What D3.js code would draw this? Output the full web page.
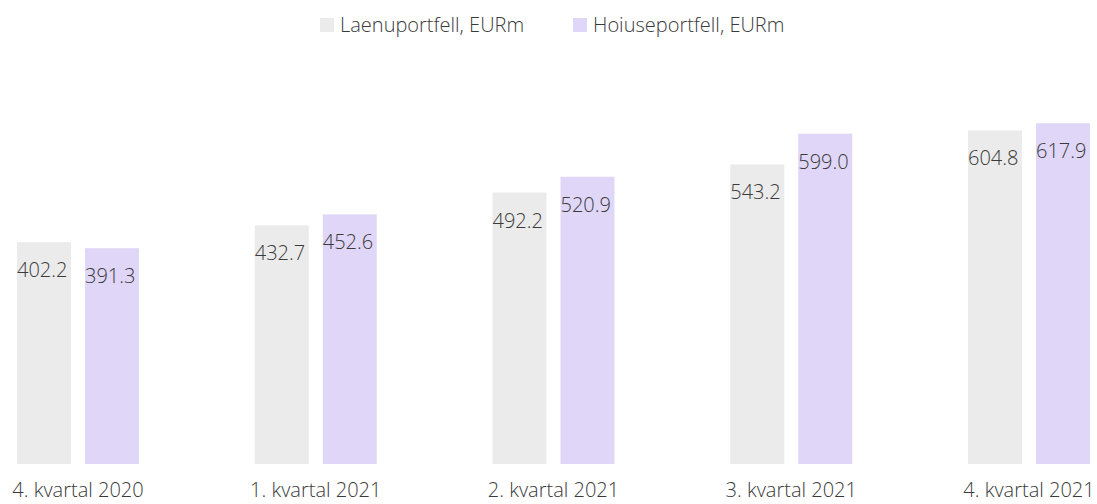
<!DOCTYPE html>
<html>
<head>
<meta charset="utf-8">
<script src="https://cdn.jsdelivr.net/npm/d3@7"></script>
<style>
  body { margin: 0; background: #fff; }
  text { font-family: "Open Sans", sans-serif; font-weight: 300; fill: #3a3a3a; }
</style>
</head>
<body>
<div id="chart"></div>
<script>
// chart data
var quarters = ["4. kvartal 2020", "1. kvartal 2021", "2. kvartal 2021", "3. kvartal 2021", "4. kvartal 2021"];
var seriesNames = ["Laenuportfell, EURm", "Hoiuseportfell, EURm"];
var loans = [402.2, 432.7, 492.2, 543.2, 604.8];
var deposits = [391.3, 452.6, 520.9, 599.0, 617.9];
var colors = ["#ebebeb", "#e0d6f7"];

var width = 1097,
    height = 504;

var seriesValues = [loans, deposits];

var svg = d3.select("#chart")
            .append("svg")
            .attr("width", width)
            .attr("height", height);

// scales
var x0 = d3.scaleBand()
           .domain(quarters)
           .range([17, 1090])
           .paddingInner(0.487)
           .paddingOuter(0);

var x1 = d3.scaleBand()
           .domain(seriesNames)
           .range([0, x0.bandwidth()])
           .paddingInner(0.206)
           .paddingOuter(0);

var y = d3.scaleLinear()
          .domain([0, 700])
          .range([464, 464 - 700 * 0.5515]);

var groups = svg.selectAll("g.group")
                .data(quarters)
                .enter()
                .append("g")
                .attr("class", "group")
                .attr("transform", function(d) { return "translate(" + x0(d) + ",0)"; });

groups.selectAll("rect")
      .data(function(q, i) {
        return seriesNames.map(function(s, j) { return { series: s, value: seriesValues[j][i], idx: j }; });
      })
      .enter()
      .append("rect")
      .attr("x", function(d) { return x1(d.series); })
      .attr("y", function(d) { return y(d.value); })
      .attr("width", x1.bandwidth())
      .attr("height", function(d) { return y(0) - y(d.value); })
      .attr("fill", function(d) { return colors[d.idx]; });

groups.selectAll("text.val")
      .data(function(q, i) {
        return seriesNames.map(function(s, j) { return { series: s, value: seriesValues[j][i] }; });
      })
      .enter()
      .append("text")
      .attr("class", "val")
      .attr("x", function(d) { return x1(d.series); })
      .attr("y", function(d) { return y(d.value) + 35; })
      .style("font-size", "20px")
      .text(function(d) { return d.value.toFixed(1); });

// x axis labels
var xAxis = d3.axisBottom(x0).tickSize(0).tickPadding(0);
var axisG = svg.append("g")
               .attr("transform", "translate(0,483)")
               .call(xAxis);
axisG.select(".domain").remove();
axisG.selectAll("text")
     .attr("dy", "0.71em")
     .style("font-size", "20px")
     .style("font-family", "'Open Sans', sans-serif")
     .style("fill", "#3a3a3a");

// legend
var legendX = [320, 573];
var legend = svg.selectAll("g.legend")
                .data(seriesNames)
                .enter()
                .append("g")
                .attr("class", "legend")
                .attr("transform", function(d, i) { return "translate(" + legendX[i] + ",18)"; });

legend.append("rect")
      .attr("width", 14)
      .attr("height", 14)
      .attr("fill", function(d, i) { return colors[i]; });

legend.append("text")
      .attr("x", 20)
      .attr("y", 14)
      .style("font-size", "20px")
      .text(function(d) { return d; });
</script>
</body>
</html>
